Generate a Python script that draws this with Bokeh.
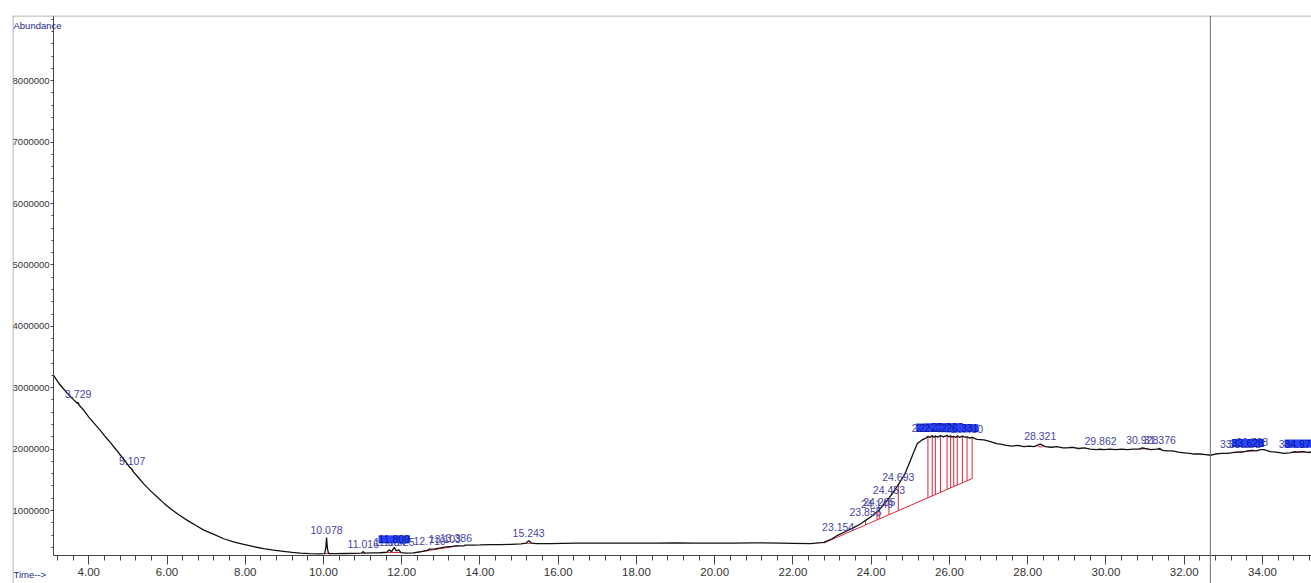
import numpy as np
from bokeh.plotting import figure
from bokeh.models import (ColumnDataSource, FixedTicker, NumeralTickFormatter,
                          Span, Label, LabelSet, Range1d)
from bokeh.core.properties import value
from bokeh.embed import file_html
from bokeh.resources import INLINE

# ---------------- data ----------------
time_min = [
    3.10, 3.25, 3.45, 3.60, 3.70, 3.729, 3.76, 3.85, 4.00, 4.15, 4.30, 4.45,
    4.55, 4.70, 4.81, 4.95, 5.05, 5.107, 5.14, 5.25, 5.41, 5.58, 5.75, 5.92,
    6.09, 6.30, 6.52, 6.73, 6.94, 7.20, 7.45, 7.70, 7.96, 8.22, 8.47, 8.72,
    8.98, 9.20, 9.41, 9.65, 9.90, 10.03, 10.06, 10.078, 10.10, 10.13, 10.30,
    10.55, 10.80, 10.96, 11.016, 11.06, 11.25, 11.45, 11.62, 11.684, 11.74,
    11.809, 11.86, 11.925, 11.98, 12.10, 12.30, 12.50, 12.65, 12.71, 12.85,
    12.99, 13.10, 13.29, 13.386, 13.59, 13.62, 13.80, 14.01, 14.25, 14.52,
    14.80, 15.05, 15.18, 15.243, 15.31, 15.45, 15.80, 16.10, 16.50, 17.08,
    17.50, 18.00, 18.50, 19.00, 19.50, 20.00, 20.50, 21.00, 21.68, 22.00,
    22.45, 22.79, 23.00, 23.154, 23.39, 23.55, 23.73, 23.855, 23.98, 24.149,
    24.205, 24.35, 24.453, 24.60, 24.693, 24.85, 25.00, 25.10, 25.18, 25.30,
    25.40, 25.45, 25.50, 25.56, 25.60, 25.64, 25.70, 25.77, 25.85, 25.94,
    25.98, 26.03, 26.07, 26.11, 26.16, 26.20, 26.26, 26.33, 26.40, 26.45,
    26.52, 26.58, 26.70, 26.88, 27.05, 27.20, 27.31, 27.45, 27.60, 27.75,
    27.90, 28.05, 28.16, 28.321, 28.45, 28.60, 28.75, 28.90, 29.01, 29.15,
    29.30, 29.45, 29.60, 29.75, 29.862, 29.95, 30.10, 30.25, 30.40, 30.55,
    30.71, 30.85, 30.928, 31.00, 31.15, 31.30, 31.376, 31.45, 31.57, 31.70,
    31.85, 32.00, 32.15, 32.25, 32.40, 32.55, 32.67, 32.80, 32.95, 33.10,
    33.20, 33.325, 33.45, 33.552, 33.628, 33.738, 33.85, 33.95, 34.04, 34.20,
    34.35, 34.55, 34.70, 34.827, 34.90, 34.976, 35.05, 35.15, 35.26,
]
abundance = [
    3200000, 3060000, 2910000, 2810000, 2750000, 2760000, 2710000, 2650000,
    2520000, 2410000, 2300000, 2180000, 2110000, 1990000, 1900000, 1790000,
    1700000, 1670000, 1630000, 1550000, 1430000, 1320000, 1220000, 1120000,
    1030000, 930000, 840000, 760000, 680000, 610000, 540000, 490000, 450000,
    410000, 380000, 355000, 335000, 318000, 305000, 298000, 295000, 298000,
    400000, 560000, 380000, 300000, 297000, 300000, 302000, 305000, 330000,
    305000, 310000, 312000, 320000, 360000, 330000, 400000, 340000, 360000,
    315000, 305000, 310000, 330000, 350000, 370000, 375000, 390000, 405000,
    415000, 425000, 425000, 435000, 437000, 440000, 445000, 445000, 450000,
    455000, 470000, 510000, 470000, 460000, 462000, 465000, 468000, 470000,
    468000, 470000, 468000, 472000, 470000, 468000, 470000, 472000, 470000,
    466000, 460000, 480000, 540000, 600000, 670000, 720000, 780000, 840000,
    890000, 980000, 1010000, 1120000, 1200000, 1330000, 1420000, 1580000,
    1810000, 1970000, 2090000, 2150000, 2180000, 2210000, 2190000, 2220000,
    2190000, 2215000, 2195000, 2220000, 2200000, 2225000, 2200000, 2215000,
    2195000, 2210000, 2190000, 2215000, 2190000, 2210000, 2195000, 2200000,
    2180000, 2190000, 2160000, 2150000, 2120000, 2090000, 2080000, 2060000,
    2050000, 2060000, 2040000, 2050000, 2040000, 2080000, 2040000, 2030000,
    2040000, 2020000, 2020000, 2030000, 2010000, 2020000, 2000000, 1990000,
    2000000, 1990000, 2000000, 1990000, 2000000, 1990000, 2000000, 2000000,
    2020000, 2010000, 1990000, 2000000, 2010000, 1980000, 1970000, 1970000,
    1950000, 1940000, 1930000, 1920000, 1920000, 1910000, 1900000, 1920000,
    1930000, 1930000, 1940000, 1950000, 1950000, 1960000, 1970000, 1980000,
    1970000, 1990000, 1990000, 1960000, 1950000, 1930000, 1940000, 1960000,
    1950000, 1960000, 1960000, 1945000, 1955000,
]

peak_time = [
    3.729, 5.107, 10.078, 11.016, 11.684, 11.809, 11.925, 12.710, 13.103,
    13.386, 15.243, 23.154, 23.855, 24.149, 24.205, 24.453, 24.693,
    25.45, 25.56, 25.64, 25.77, 25.94, 26.03, 26.11, 26.20, 26.33, 26.45,
    28.321, 29.862, 30.928, 31.376, 33.325, 33.552, 33.628, 33.738,
    34.827, 34.976, 35.065,
]
peak_label = [
    "3.729", "5.107", "10.078", "11.016", "11.684", "11.809", "11.925",
    "12.710", "13.103", "13.386", "15.243", "23.154", "23.855", "24.149",
    "24.205", "24.453", "24.693",
    "25.452", "25.557", "25.642", "25.771", "25.938", "26.029", "26.113",
    "26.198", "26.331", "26.450",
    "28.321", "29.862", "30.928", "31.376", "33.325", "33.552", "33.628",
    "33.738", "34.827", "34.976", "35.065",
]

# integration baselines (start/end time and abundance)
base_t0 = [3.68, 5.06, 10.04, 10.98, 11.64, 12.30, 15.18, 22.79, 28.26, 29.80, 30.88, 31.33, 33.28, 34.78]
base_t1 = [3.78, 5.16, 10.12, 11.05, 11.97, 13.45, 15.31, 26.58, 28.38, 29.92, 30.98, 31.42, 33.80, 35.10]
base_v0 = [2760000, 1700000, 298000, 305000, 318000, 310000, 465000, 470000, 2040000, 1990000, 2000000, 2000000, 1945000, 1945000]
base_v1 = [2705000, 1610000, 300000, 305000, 315000, 425000, 468000, 1520000, 2035000, 1990000, 2005000, 1985000, 1975000, 1950000]

# drop lines of the large integrated group
drop_time = [23.855, 24.149, 24.205, 24.453, 24.693, 25.45, 25.56, 25.64,
             25.77, 25.94, 26.03, 26.11, 26.20, 26.33, 26.45, 26.58]

cursor_time = 32.67

# axis extents of the chromatogram window
time_start, time_end = 3.10, 35.255
abund_floor = 267000

x_major = [4, 6, 8, 10, 12, 14, 16, 18, 20, 22, 24, 26, 28, 30, 32, 34]
x_minor = [3.2, 3.6, 4.0, 4.4, 4.8, 5.2, 5.6, 6.0, 6.4, 6.8, 7.2, 7.6, 8.0,
           8.4, 8.8, 9.2, 9.6, 10.0, 10.4, 10.8, 11.2, 11.6, 12.0, 12.4, 12.8,
           13.2, 13.6, 14.0, 14.4, 14.8, 15.2, 15.6, 16.0, 16.4, 16.8, 17.2,
           17.6, 18.0, 18.4, 18.8, 19.2, 19.6, 20.0, 20.4, 20.8, 21.2, 21.6,
           22.0, 22.4, 22.8, 23.2, 23.6, 24.0, 24.4, 24.8, 25.2, 25.6, 26.0,
           26.4, 26.8, 27.2, 27.6, 28.0, 28.4, 28.8, 29.2, 29.6, 30.0, 30.4,
           30.8, 31.2, 31.6, 32.0, 32.4, 32.8, 33.2, 33.6, 34.0, 34.4, 34.8,
           35.2]
y_major = [1000000, 2000000, 3000000, 4000000, 5000000, 6000000, 7000000, 8000000]
y_minor = [400000, 600000, 800000, 1000000, 1200000, 1400000, 1600000,
           1800000, 2000000, 2200000, 2400000, 2600000, 2800000, 3000000,
           3200000, 3400000, 3600000, 3800000, 4000000, 4200000, 4400000,
           4600000, 4800000, 5000000, 5200000, 5400000, 5600000, 5800000,
           6000000, 6200000, 6400000, 6600000, 6800000, 7000000, 7200000,
           7400000, 7600000, 7800000, 8000000, 8200000, 8400000, 8600000,
           8800000, 9000000]

# ---------------- styling ----------------
FONT = "Liberation Sans"
AXIS_COLOR = "#444444"
LABEL_BLUE = "#4646a6"
HL_BG = "#2a44ff"
HL_TEXT = "#0c168c"
RED = "#d8283c"
NAVY = "#26268a"

# the frame spans the whole window box; axes are drawn at fixed locations
X_LO, X_HI = 2.05, 35.255
Y_LO, Y_HI = -188800, 9062000

p = figure(width=1311, height=583, output_backend="svg", toolbar_location=None,
           x_range=Range1d(X_LO, X_HI), y_range=Range1d(Y_LO, Y_HI),
           min_border_left=12, min_border_right=0, min_border_top=15,
           min_border_bottom=0)
p.outline_line_color = None
p.xgrid.visible = False
p.ygrid.visible = False
p.background_fill_color = "white"
p.border_fill_color = "white"

xa = p.xaxis[0]
xa.fixed_location = abund_floor
xa.bounds = (time_start, time_end)
xa.ticker = FixedTicker(ticks=x_major, minor_ticks=x_minor)
xa.formatter = NumeralTickFormatter(format="0.00")
ya = p.yaxis[0]
ya.fixed_location = time_start
ya.bounds = (abund_floor, Y_HI)
ya.ticker = FixedTicker(ticks=y_major, minor_ticks=y_minor)
ya.formatter = NumeralTickFormatter(format="0")
for ax in (xa, ya):
    ax.axis_line_color = AXIS_COLOR
    ax.major_tick_line_color = AXIS_COLOR
    ax.minor_tick_line_color = AXIS_COLOR
    ax.major_tick_in = 0
    ax.minor_tick_in = 0
    ax.major_label_text_font = FONT
    ax.major_label_text_color = "#333333"
xa.major_tick_out = 9
xa.minor_tick_out = 5
xa.major_label_standoff = 3
xa.major_label_text_font_size = "11.5px"
ya.major_tick_out = 3
ya.minor_tick_out = 2
ya.major_label_standoff = 1
ya.major_label_text_font_size = "9.5px"

# outer window lines (left and top)
p.add_layout(Span(location=X_LO + 0.013, dimension="height",
                  line_color="#a0a0a0", line_width=1))
p.add_layout(Span(location=Y_HI - 8000, dimension="width",
                  line_color="#a0a0a0", line_width=1))

# integration marks
p.segment(x0=base_t0, y0=base_v0, x1=base_t1, y1=base_v1, line_color=RED,
          line_width=1)
g0 = base_t0.index(22.79)
drop_base = np.interp(drop_time, [base_t0[g0], base_t1[g0]], [base_v0[g0], base_v1[g0]])
drop_top = np.interp(drop_time, time_min, abundance)
p.segment(x0=drop_time, y0=drop_base, x1=drop_time, y1=drop_top,
          line_color=RED, line_width=1)

# trace
p.line(time_min, abundance, line_color="#111111", line_width=1.3)

# cursor line
p.add_layout(Span(location=cursor_time, dimension="height",
                  line_color="#6e6e6e", line_width=1))

# peak labels: a label overlapped on both sides is shown highlighted
n = len(peak_time)
busy_flag = []
for i in range(n):
    left_close = i > 0 and peak_time[i] - peak_time[i - 1] < 0.2
    right_close = i < n - 1 and peak_time[i + 1] - peak_time[i] < 0.2
    busy_flag.append(bool(left_close and right_close))
label_y = np.interp(peak_time, time_min, abundance)
plain = [i for i in range(n) if not busy_flag[i]]
busy = [i for i in range(n) if busy_flag[i]]
src_plain = ColumnDataSource(dict(
    x=[peak_time[i] for i in plain],
    y=[label_y[i] for i in plain],
    text=[peak_label[i] for i in plain],
))
src_busy = ColumnDataSource(dict(
    x=[peak_time[i] for i in busy],
    y=[label_y[i] for i in busy],
    text=[peak_label[i] for i in busy],
))
p.text(x="x", y="y", text="text", source=src_plain, text_color=LABEL_BLUE,
       text_font=value(FONT), text_font_size="10.5px", text_align="center",
       text_baseline="bottom", y_offset=-4)
p.add_layout(LabelSet(x="x", y="y", text="text", source=src_busy,
                      text_color=HL_TEXT, text_font=value(FONT),
                      text_font_size="10.5px", text_align="center",
                      text_baseline="bottom", y_offset=4,
                      background_fill_color=HL_BG, background_fill_alpha=1.0))

p.add_layout(Label(x=1, y=558, x_units="screen", y_units="screen",
                   text="Abundance", text_font=FONT, text_font_size="9.5px",
                   text_color=NAVY, text_baseline="middle"))
p.add_layout(Label(x=1, y=9, x_units="screen", y_units="screen",
                   text="Time-->", text_font=FONT, text_font_size="9.5px",
                   text_color=NAVY, text_baseline="middle"))

open("out.html", "w").write(file_html(p, INLINE))
